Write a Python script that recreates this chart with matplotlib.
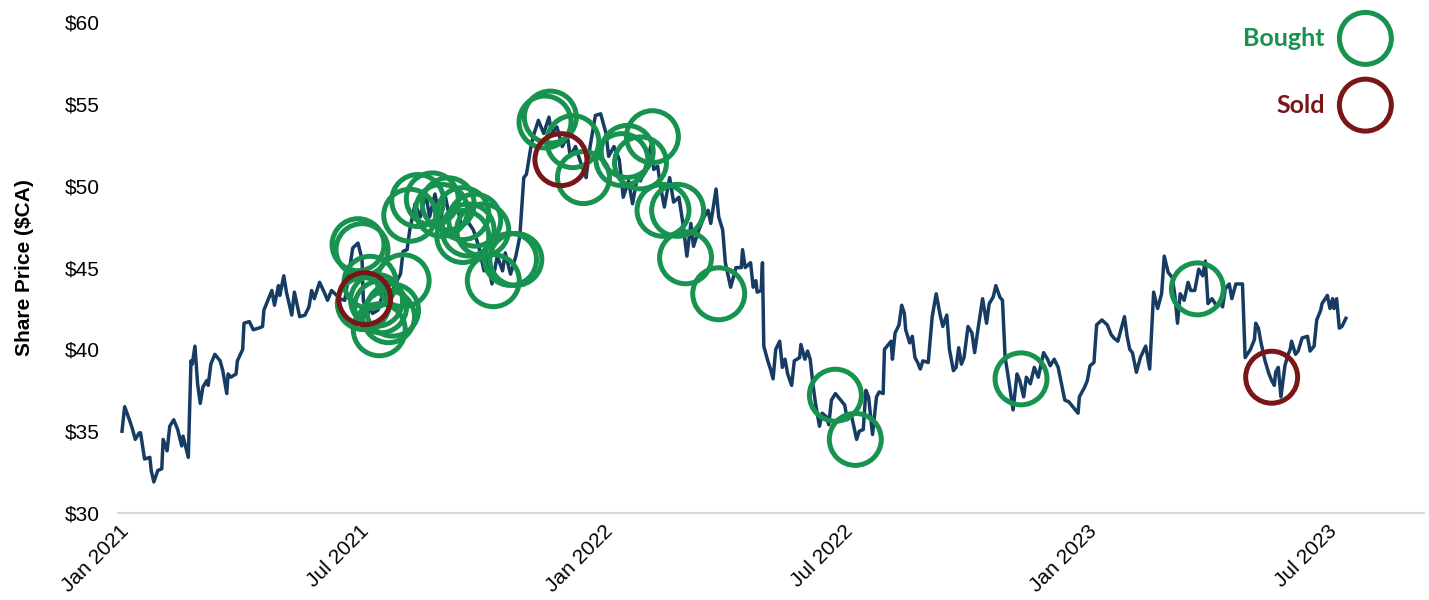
import numpy as np
import pandas as pd
import matplotlib
matplotlib.use("Agg")
import matplotlib.pyplot as plt
import matplotlib.dates as mdates
from matplotlib.ticker import FuncFormatter

plt.rcParams["font.family"] = ["Liberation Sans", "DejaVu Sans"]

# ── Data ─────────────────────────────────────────────────────────────────────
START = "2021-01-01"

# days after START and closing share price ($CA)
price_day = [
    2, 4, 8, 10, 12, 15, 16, 19, 23, 24, 26, 29, 32, 33, 36, 38, 41, 44, 47, 48,
    52, 54, 55, 57, 59, 61, 63, 66, 67, 69, 72, 76, 78, 81, 82, 84, 88, 89, 93, 94,
    98, 101, 105, 108, 109, 111, 115, 117, 120, 121, 124, 126, 130, 132, 136, 140,
    143, 145, 147, 151, 155, 157, 160, 164, 166, 170, 176, 180, 183, 184, 187, 189,
    191, 195, 199, 203, 206, 210, 212, 214, 217, 219, 223, 227, 231, 234, 238, 242,
    246, 249, 255, 258, 262, 267, 271, 275, 277, 281, 285, 289, 291, 295, 299, 302,
    305, 307, 310, 312, 316, 320, 324, 326, 330, 334, 338, 340, 344, 348, 352, 355,
    359, 363, 367, 369, 373, 377, 380, 384, 387, 391, 393, 397, 401, 403, 406, 408,
    411, 415, 418, 422, 425, 428, 431, 433, 437, 441, 444, 446, 450, 452, 455, 457,
    461, 465, 469, 470, 472, 476, 478, 480, 481, 484, 485, 486, 489, 491, 493, 495,
    498, 500, 502, 504, 507, 509, 513, 514, 517, 519, 521, 523, 525, 528, 530, 533,
    535, 537, 540, 543, 547, 549, 552, 556, 558, 561, 563, 565, 568, 571, 573, 576,
    577, 580, 582, 583, 585, 588, 590, 592, 593, 596, 598, 600, 602, 604, 606, 610,
    613, 616, 619, 621, 624, 626, 629, 631, 633, 635, 637, 640, 643, 645, 648, 651,
    654, 656, 659, 661, 664, 666, 668, 670, 674, 677, 679, 682, 684, 687, 690, 693,
    697, 700, 702, 705, 708, 711, 713, 716, 719, 723, 724, 728, 730, 732, 735, 737,
    741, 745, 748, 750, 753, 756, 758, 760, 762, 764, 767, 770, 774, 777, 780, 783,
    786, 788, 791, 794, 796, 798, 800, 803, 806, 808, 811, 814, 817, 819, 821, 824,
    828, 830, 832, 834, 837, 839, 842, 844, 847, 849, 853, 856, 857, 859, 861, 864,
    867, 869, 871, 872, 874, 876, 879, 881, 883, 884, 887, 889, 892, 896, 898, 901,
    903, 906, 907, 911, 913, 915, 916, 918, 920, 922, 925,
]
price = [
    35.0, 36.5, 35.6, 35.1, 34.5, 34.9, 34.9, 33.3, 33.4, 32.6, 31.9, 32.6, 32.7, 34.5,
    33.8, 35.3, 35.7, 35.1, 34.1, 34.7, 33.4, 39.3, 39.1, 40.2, 37.9, 36.7, 37.7, 38.1,
    37.8, 39.1, 39.7, 39.3, 38.7, 37.3, 38.5, 38.3, 38.5, 39.3, 40.0, 41.6, 41.7, 41.2,
    41.3, 41.4, 42.4, 42.8, 43.6, 42.7, 43.9, 43.3, 44.5, 43.5, 42.1, 43.5, 42.0, 42.1,
    42.6, 43.6, 43.1, 44.1, 43.4, 43.0, 43.6, 43.3, 43.1, 43.0, 46.2, 46.5, 45.5, 43.0,
    42.0, 42.6, 42.2, 42.4, 43.5, 42.8, 43.6, 44.3, 44.6, 46.0, 46.1, 47.3, 48.9, 48.1,
    49.5, 48.1, 49.5, 47.9, 49.3, 48.1, 48.7, 47.5, 47.9, 47.3, 46.3, 44.8, 45.7, 44.0,
    45.7, 44.8, 45.9, 44.6, 45.7, 46.9, 50.5, 50.7, 52.2, 53.0, 54.0, 53.2, 54.2, 53.2,
    53.6, 52.4, 53.0, 51.8, 52.4, 51.4, 50.5, 52.4, 54.3, 54.4, 53.2, 51.8, 52.4, 51.6,
    49.3, 50.3, 48.9, 50.7, 50.3, 51.2, 52.5, 51.0, 51.2, 50.0, 48.7, 50.5, 49.0, 49.3,
    47.7, 45.7, 47.7, 46.3, 47.3, 48.1, 48.5, 47.7, 49.8, 48.1, 47.3, 45.3, 43.8, 45.0,
    45.0, 46.1, 45.0, 45.3, 43.8, 44.2, 43.5, 43.6, 45.3, 40.2, 39.3, 38.8, 38.2, 40.0,
    40.5, 38.9, 39.4, 38.5, 37.8, 39.3, 39.5, 40.3, 39.4, 39.9, 39.4, 37.9, 36.7, 35.3,
    36.1, 35.9, 35.4, 36.9, 37.3, 37.0, 36.6, 35.7, 36.0, 34.5, 35.0, 35.1, 37.5, 37.1,
    34.8, 37.1, 37.4, 37.3, 40.0, 40.3, 40.5, 39.4, 41.0, 41.5, 42.7, 42.2, 41.2, 40.4,
    40.8, 39.5, 39.2, 38.8, 39.3, 39.2, 42.0, 43.4, 42.1, 41.4, 42.1, 40.0, 38.7, 38.9,
    40.1, 39.1, 39.5, 41.4, 41.0, 39.8, 41.5, 43.1, 41.6, 42.8, 43.2, 43.9, 43.2, 43.0,
    39.5, 38.5, 36.3, 38.5, 38.1, 37.1, 38.3, 37.9, 38.9, 38.3, 39.8, 39.4, 39.0, 39.4,
    38.9, 37.7, 36.9, 36.8, 36.5, 36.1, 37.1, 37.7, 38.1, 39.0, 39.2, 41.5, 41.8, 41.5,
    40.9, 40.7, 40.5, 41.4, 42.0, 40.8, 40.0, 39.8, 38.6, 39.5, 40.2, 38.8, 43.5, 42.5,
    43.4, 45.7, 44.7, 44.4, 43.3, 41.6, 43.4, 43.0, 44.1, 43.6, 43.6, 44.9, 44.5, 45.4,
    42.8, 43.1, 42.6, 42.9, 42.6, 43.7, 44.0, 43.1, 44.0, 44.0, 44.0, 39.5, 40.0, 40.6,
    41.6, 41.3, 40.4, 39.3, 38.5, 38.1, 37.8, 38.6, 38.9, 37.1, 39.0, 39.6, 40.0, 40.5,
    39.7, 39.9, 40.7, 40.8, 39.9, 40.2, 41.8, 42.4, 42.8, 43.3, 42.5, 43.1, 42.5, 43.1,
    41.3, 41.4, 41.9,
]

# trades: days after START and price at the trade
bought_day = [
    180, 183, 189, 184, 194, 197, 203, 206, 196, 214, 219, 225, 236, 243, 248, 259,
    263, 268, 259, 274, 282, 295, 299, 321, 325, 342, 350, 379, 383, 393, 402, 410,
    421, 427, 452, 540, 555, 680, 813,
]
bought_price = [
    46.4, 46.1, 44.1, 42.8, 43.0, 42.6, 42.0, 42.4, 41.2, 44.2, 48.2, 49.1, 49.2, 48.5,
    48.9, 48.3, 47.3, 47.9, 46.9, 47.3, 44.2, 45.5, 45.5, 53.9, 54.2, 52.7, 50.5, 51.6,
    52.1, 51.4, 53.0, 48.5, 48.5, 45.6, 43.4, 37.2, 34.5, 38.2, 43.7,
]
sold_day = [185, 333, 869]
sold_price = [43.1, 51.6, 38.3]

NAVY = "#173c64"
GREEN = "#17924f"
RED = "#7a1518"


def to_dates(days):
    return pd.Timestamp(START) + pd.to_timedelta(days, unit="D")


fig = plt.figure(figsize=(14.29, 6.0), dpi=100)
ax = fig.add_axes([0.0826, 0.145, 0.914, 0.818])

ax.plot(to_dates(price_day), price, color=NAVY, linewidth=2.5, zorder=2)

ring = dict(s=1400, facecolors="none", linewidths=3.6, zorder=3)
ax.scatter(to_dates(bought_day), bought_price, edgecolors=GREEN, **ring)
ax.scatter(to_dates(sold_day), sold_price, edgecolors=RED, **ring)

# ── legend drawn by hand (text left of ring) ────────────────────────────────
ax.scatter([0.955, 0.955], [0.967, 0.831], transform=ax.transAxes,
           edgecolors=[GREEN, RED], clip_on=False, **ring)
ax.text(0.924, 0.967, "Bought", transform=ax.transAxes, ha="right", va="center",
        color=GREEN, fontsize=18, fontweight="bold", family="Lato")
ax.text(0.924, 0.831, "Sold", transform=ax.transAxes, ha="right", va="center",
        color=RED, fontsize=18, fontweight="bold", family="Lato")

# ── axes styling ────────────────────────────────────────────────────────────
ax.set_ylim(30, 60)
ax.set_yticks(np.arange(30, 61, 5))
ax.yaxis.set_major_formatter(FuncFormatter(lambda v, _: f"${v:.0f}"))
ax.set_xlim(pd.Timestamp("2020-12-31"), pd.Timestamp("2023-09-12"))
ax.xaxis.set_major_locator(mdates.MonthLocator(bymonth=[1, 7]))
ax.xaxis.set_major_formatter(mdates.DateFormatter("%b %Y"))

ax.tick_params(axis="both", length=0, labelsize=15, colors="black")
ax.tick_params(axis="x", pad=6)
ax.tick_params(axis="y", pad=13)
plt.setp(ax.get_xticklabels(), rotation=45, ha="right", rotation_mode="anchor")

for side in ["top", "right", "left"]:
    ax.spines[side].set_visible(False)
ax.spines["bottom"].set_color("#d9d9d9")
ax.spines["bottom"].set_linewidth(1.5)

ax.set_ylabel("Share Price ($CA)", fontsize=15, fontweight="bold", labelpad=22)

fig.savefig("out.png", dpi=100)
